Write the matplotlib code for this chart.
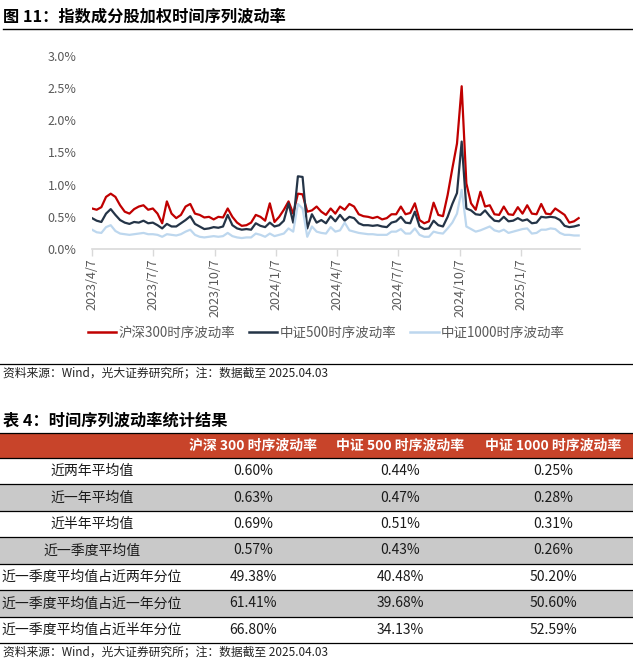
import matplotlib
matplotlib.use("Agg")
import matplotlib.pyplot as plt
import numpy as np
import pandas as pd
from matplotlib.lines import Line2D
from matplotlib.patches import Rectangle
from matplotlib.ticker import FuncFormatter

plt.rcParams['font.family'] = ['Noto Sans CJK SC', 'DejaVu Sans']

# ---------------- data ----------------
start_date = '2023-04-07'
end_date = '2025-04-03'

hs300_vol = [0.63,0.61,0.65,0.81,0.86,0.81,0.68,0.58,0.55,0.62,
             0.66,0.68,0.61,0.63,0.55,0.40,0.74,0.55,0.48,0.53,
             0.66,0.70,0.55,0.53,0.49,0.50,0.46,0.50,0.49,0.63,
             0.50,0.41,0.36,0.37,0.41,0.53,0.50,0.44,0.71,0.42,
             0.50,0.61,0.74,0.55,0.86,0.85,0.58,0.60,0.66,0.58,
             0.53,0.63,0.55,0.66,0.61,0.70,0.66,0.54,0.51,0.50,
             0.48,0.50,0.46,0.48,0.54,0.54,0.66,0.54,0.56,0.71,
             0.45,0.40,0.43,0.72,0.53,0.51,0.84,1.25,1.64,2.53,
             1.02,0.71,0.61,0.89,0.66,0.68,0.54,0.53,0.66,0.54,
             0.53,0.65,0.55,0.68,0.55,0.54,0.70,0.55,0.54,0.63,
             0.58,0.53,0.41,0.43,0.48]

zz500_vol = [0.48,0.44,0.42,0.55,0.62,0.53,0.45,0.41,0.39,0.42,
             0.41,0.44,0.40,0.41,0.37,0.32,0.39,0.35,0.35,0.40,
             0.45,0.51,0.39,0.35,0.31,0.32,0.34,0.33,0.35,0.53,
             0.37,0.32,0.30,0.31,0.30,0.40,0.36,0.34,0.41,0.35,
             0.37,0.44,0.71,0.41,1.13,1.12,0.32,0.54,0.41,0.45,
             0.40,0.51,0.43,0.53,0.44,0.50,0.48,0.40,0.37,0.37,
             0.36,0.37,0.35,0.34,0.41,0.43,0.50,0.41,0.40,0.58,
             0.35,0.31,0.32,0.44,0.37,0.35,0.50,0.70,0.87,1.67,
             0.63,0.60,0.54,0.53,0.60,0.51,0.44,0.43,0.50,0.43,
             0.44,0.48,0.44,0.46,0.40,0.41,0.50,0.49,0.50,0.49,
             0.45,0.36,0.34,0.35,0.37]

zz1000_vol = [0.30,0.26,0.25,0.34,0.37,0.28,0.24,0.23,0.22,0.23,
              0.24,0.25,0.23,0.23,0.22,0.19,0.23,0.22,0.21,0.23,
              0.27,0.30,0.22,0.19,0.18,0.19,0.20,0.19,0.20,0.25,
              0.20,0.18,0.17,0.18,0.18,0.24,0.22,0.19,0.24,0.20,
              0.22,0.24,0.32,0.27,0.70,0.63,0.19,0.35,0.27,0.25,
              0.24,0.34,0.27,0.29,0.41,0.29,0.27,0.25,0.24,0.23,
              0.23,0.22,0.22,0.22,0.27,0.27,0.31,0.24,0.24,0.32,
              0.22,0.19,0.19,0.27,0.25,0.24,0.32,0.41,0.55,0.92,
              0.35,0.31,0.27,0.29,0.32,0.35,0.29,0.27,0.30,0.25,
              0.27,0.29,0.31,0.32,0.24,0.25,0.30,0.30,0.32,0.31,
              0.25,0.22,0.22,0.21,0.21]

series_names = ['沪深300时序波动率', '中证500时序波动率', '中证1000时序波动率']
x_tick_labels = ['2023/4/7', '2023/7/7', '2023/10/7', '2024/1/7',
                 '2024/4/7', '2024/7/7', '2024/10/7', '2025/1/7']

table_row_labels = ['近两年平均值', '近一年平均值', '近半年平均值', '近一季度平均值',
                    '近一季度平均值占近两年分位', '近一季度平均值占近一年分位',
                    '近一季度平均值占近半年分位']
table_col_headers = ['沪深 300 时序波动率', '中证 500 时序波动率', '中证 1000 时序波动率']
table_hs300 = [0.60, 0.63, 0.69, 0.57, 49.38, 61.41, 66.80]
table_zz500 = [0.44, 0.47, 0.51, 0.43, 40.48, 39.68, 34.13]
table_zz1000 = [0.25, 0.28, 0.31, 0.26, 50.20, 50.60, 52.59]

fig_title = '图 11：指数成分股加权时间序列波动率'
table_title = '表 4：时间序列波动率统计结果'
source_note = '资料来源：Wind，光大证券研究所；注：数据截至 2025.04.03'

# ---------------- layout helpers ----------------
W, H = 633, 660
fig = plt.figure(figsize=(W / 100, H / 100), dpi=100)


def fx(x):
    return x / W


def fy(y):
    return 1 - y / H


colors = ['#C00000', '#243447', '#BDD7EE']

# ---------------- chart ----------------
ax = fig.add_axes([fx(92), fy(249), fx(580) - fx(92), (249 - 56) / H])
dates = pd.date_range(start_date, end_date, periods=len(hs300_vol))
for vals, name, c in zip([hs300_vol, zz500_vol, zz1000_vol], series_names, colors):
    ax.plot(dates, vals, color=c, lw=1.6, label=name, solid_joinstyle='round')

ax.set_xlim(pd.Timestamp('2023-04-07'), pd.Timestamp('2025-04-05'))
ax.set_ylim(0, 3.0)
ax.set_yticks(np.arange(0, 3.01, 0.5))
ax.yaxis.set_major_formatter(FuncFormatter(lambda v, _: f'{v:.1f}%'))
tick_dates = pd.to_datetime(x_tick_labels, format='%Y/%m/%d')
ax.set_xticks(tick_dates)
ax.set_xticklabels(x_tick_labels)
for s in ['top', 'right', 'left']:
    ax.spines[s].set_visible(False)
ax.spines['bottom'].set_color('#D9D9D9')
ax.spines['bottom'].set_linewidth(1.2)
ax.tick_params(axis='x', length=5, width=1, color='#D9D9D9', labelrotation=90,
               labelsize=9, labelcolor='#595959', pad=2)
ax.tick_params(axis='y', length=0, pad=11, labelsize=9, labelcolor='#595959')

handles = [Line2D([], [], color=c, lw=1.8) for c in colors]
fig.legend(handles, series_names, loc='center', bbox_to_anchor=(fx(326.5), fy(333)),
           ncol=3, frameon=False, fontsize=9.7, handlelength=2.1, handletextpad=0.2,
           columnspacing=1.0, borderpad=0, labelcolor='#595959')

# titles / notes / rules
fig.text(fx(3), fy(17), fig_title, fontsize=11.7, fontweight='bold', va='center', ha='left')
fig.add_artist(Line2D([fx(3), 1], [fy(28.5), fy(28.5)], color='black', lw=1.0))
fig.add_artist(Line2D([0, 1], [fy(364), fy(364)], color='black', lw=0.9))
fig.text(fx(3), fy(373), source_note, fontsize=8.5, va='center', ha='left', color='#222222')

# ---------------- table ----------------
fig.text(fx(3), fy(421), table_title, fontsize=11.7, fontweight='bold', va='center', ha='left')
header_top, header_bot = 432.5, 458
row_h = (643 - 458) / len(table_row_labels)
col_centers = [92, 253, 400, 553]

fig.add_artist(Rectangle((0, fy(header_bot)), 1, (header_bot - header_top) / H,
                         transform=fig.transFigure, facecolor='#C8442A', edgecolor='none'))
for c, txt in zip(col_centers[1:], table_col_headers):
    fig.text(fx(c), fy((header_top + header_bot) / 2), txt, fontsize=10, fontweight='bold',
             color='white', ha='center', va='center')

for i, lab in enumerate(table_row_labels):
    top = header_bot + i * row_h
    bot = top + row_h
    if i % 2 == 1:
        fig.add_artist(Rectangle((0, fy(bot)), 1, row_h / H, transform=fig.transFigure,
                                 facecolor='#C9C9C9', edgecolor='none'))
    mid = (top + bot) / 2
    fig.text(fx(col_centers[0]), fy(mid), lab, fontsize=10, ha='center', va='center',
             color='#1a1a1a')
    for c, col in zip(col_centers[1:], [table_hs300, table_zz500, table_zz1000]):
        fig.text(fx(c), fy(mid), f'{col[i]:.2f}%', fontsize=10, ha='center', va='center',
                 color='#1a1a1a')

for k in range(len(table_row_labels) + 2):
    yy = header_top if k == 0 else header_bot + (k - 1) * row_h
    fig.add_artist(Line2D([0, 1], [fy(yy), fy(yy)], color='black', lw=0.9))

fig.text(fx(3), fy(652), source_note, fontsize=8.5, va='center', ha='left', color='#222222')

fig.savefig('out.png', dpi=100)
